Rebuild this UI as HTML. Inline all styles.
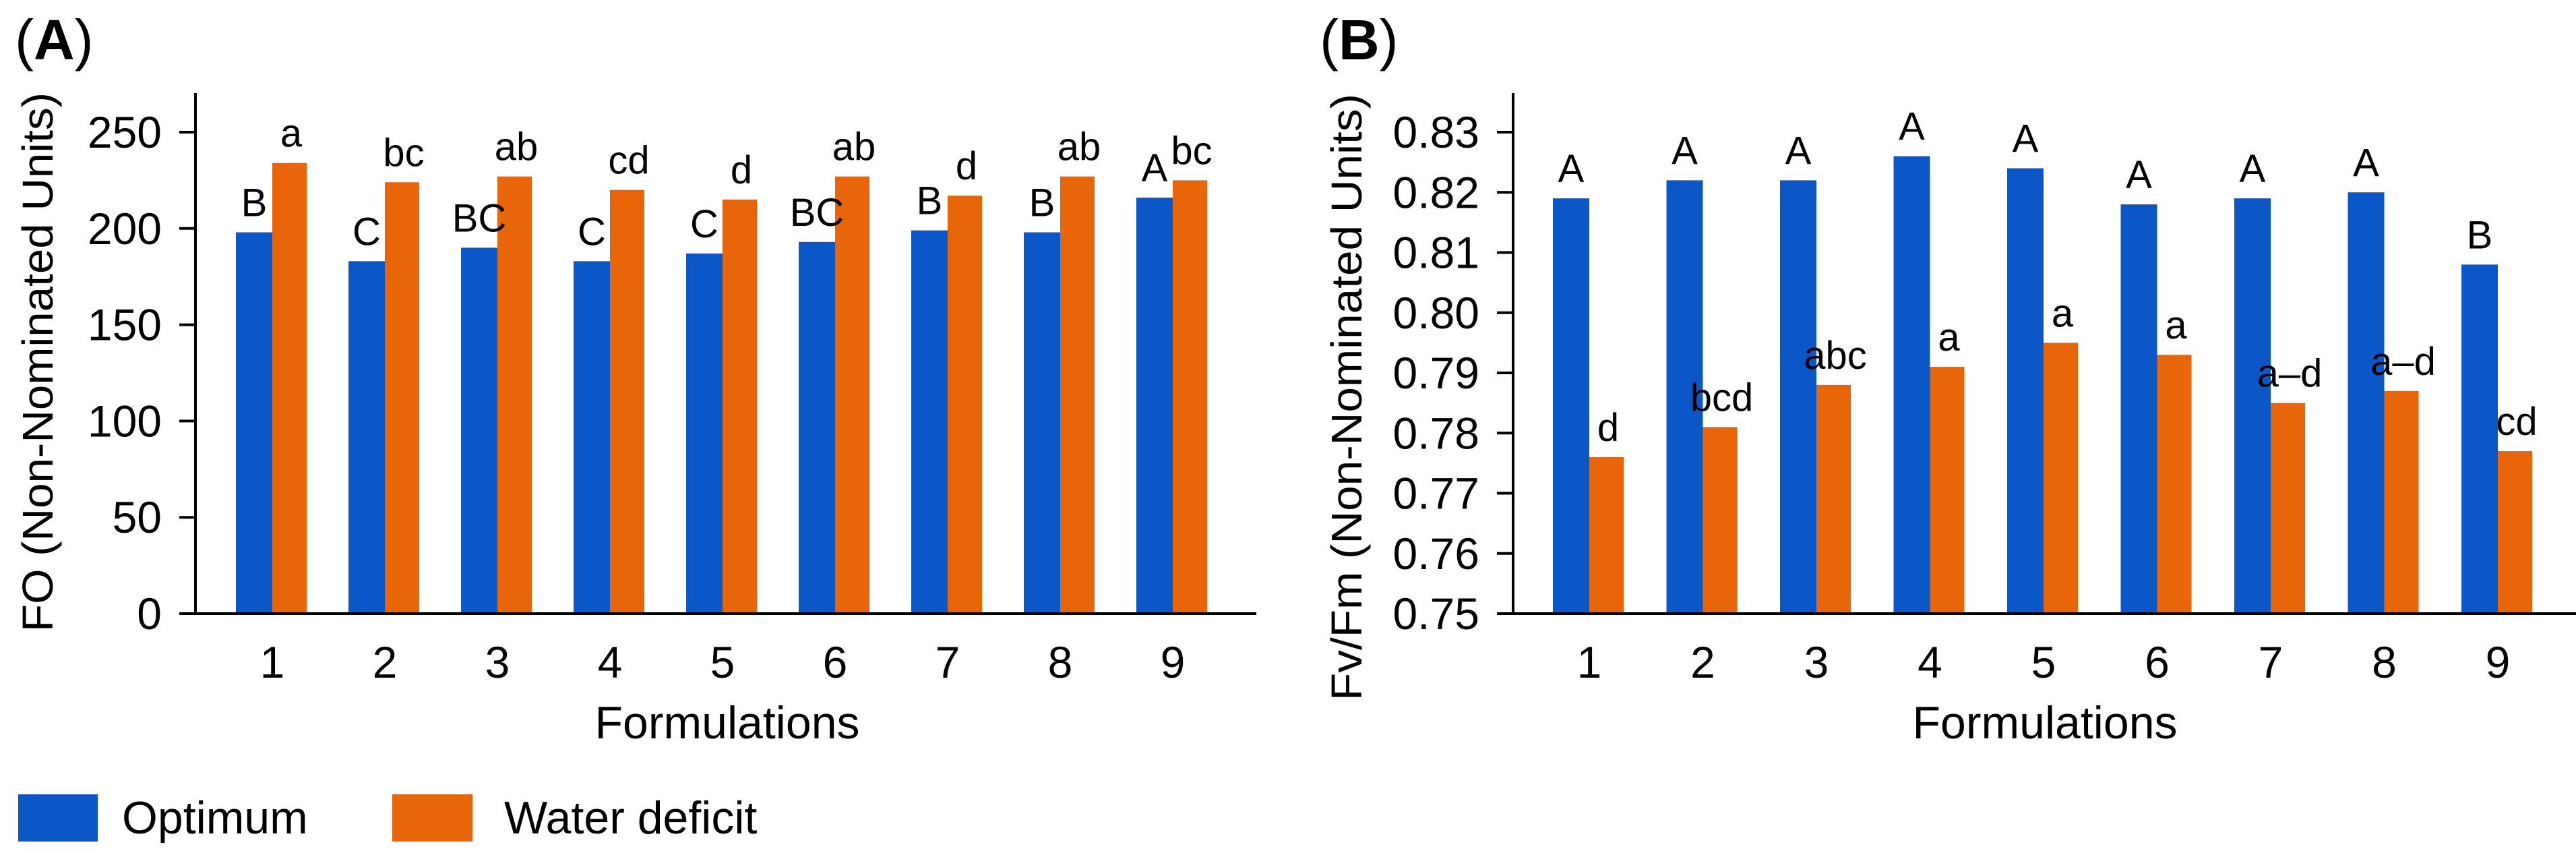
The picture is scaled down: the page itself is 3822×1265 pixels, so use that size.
<!DOCTYPE html>
<html><head><meta charset="utf-8"><style>
html,body{margin:0;padding:0;background:#fff;}
svg{display:block;font-family:"Liberation Sans",Arial,sans-serif;}
</style></head><body>
<svg id="chart" width="3822" height="1265" viewBox="0 0 3822 1265" xmlns="http://www.w3.org/2000/svg"></svg>
<script>
const categories = ["1","2","3","4","5","6","7","8","9"];
const aOptimum = [198,183,190,183,187,193,199,198,216];
const aDeficit = [234,224,227,220,215,227,217,227,225];
const aOptLetters = ["B","C","BC","C","C","BC","B","B","A"];
const aDefLetters = ["a","bc","ab","cd","d","ab","d","ab","bc"];
const aTicks = [0,50,100,150,200,250];
const bOptimum = [0.819,0.822,0.822,0.826,0.824,0.818,0.819,0.820,0.808];
const bDeficit = [0.776,0.781,0.788,0.791,0.795,0.793,0.785,0.787,0.777];
const bOptLetters = ["A","A","A","A","A","A","A","A","B"];
const bDefLetters = ["d","bcd","abc","a","a","a","a–d","a–d","cd"];
const bTicks = [0.75,0.76,0.77,0.78,0.79,0.80,0.81,0.82,0.83];

const BLUE="#0c57c8", ORANGE="#e9650a";
const svg=document.getElementById('chart');
const NS="http://www.w3.org/2000/svg";
function mk(tag,attrs,text){const e=document.createElementNS(NS,tag);for(const k in attrs)e.setAttribute(k,attrs[k]);if(text!==undefined)e.textContent=text;svg.appendChild(e);return e;}

function panel(p){
  const y=v=>p.y0-(v-p.vmin)/(p.vmax-p.vmin)*(p.y0-p.y1);
  const gx=i=>p.c0+i*p.step;
  const lab=mk('text',{x:p.lx,y:88,'font-size':84});
  
  
  const t1=document.createElementNS(NS,'tspan');t1.textContent='(';lab.appendChild(t1);
  const t2=document.createElementNS(NS,'tspan');t2.setAttribute('font-weight','bold');t2.textContent=p.id.toUpperCase();lab.appendChild(t2);
  const t3=document.createElementNS(NS,'tspan');t3.textContent=')';lab.appendChild(t3);
  categories.forEach((c,i)=>{
    const cx=gx(i);
    const b1=mk('rect',{x:cx-54,y:y(p.opt[i]),width:54,height:p.y0-y(p.opt[i]),fill:BLUE});
    
    
    const b2=mk('rect',{x:cx,y:y(p.def[i]),width:51,height:p.y0-y(p.def[i]),fill:ORANGE});
    
    
    const l1=mk('text',{x:cx-27,y:y(p.opt[i])-24,'font-size':58,'text-anchor':'middle'},p.optL[i]);
    
    
    const l2=mk('text',{x:cx+28,y:y(p.def[i])-24,'font-size':58,'text-anchor':'middle'},p.defL[i]);
    
    
    const xt=mk('text',{x:cx,y:1005,'font-size':66,'text-anchor':'middle'},c);
    
    
  });
  const ya=mk('line',{x1:p.ax,y1:138,x2:p.ax,y2:p.y0,stroke:'#000','stroke-width':4});
  
  
  const xa=mk('line',{x1:p.ax-24,y1:p.y0,x2:p.xend,y2:p.y0,stroke:'#000','stroke-width':4});
  
  
  p.ticks.forEach(t=>{
    const ty=y(t);
    const tl=mk('line',{x1:p.ax-24,y1:ty,x2:p.ax,y2:ty,stroke:'#000','stroke-width':4});
    
    
    const tx=mk('text',{x:p.ax-50,y:ty+23,'font-size':66,'text-anchor':'end'},p.fmt(t));
    
    
  });
  const xt=mk('text',{x:p.fx,y:1095,'font-size':68,'text-anchor':'middle'},'Formulations');
  
  
  const yt=mk('text',{x:0,y:0,'font-size':64,'text-anchor':'middle',transform:'translate('+p.tx+','+p.ty+') rotate(-90)',textLength:p.tlen,lengthAdjust:'spacingAndGlyphs'},p.ytitle);
  
  
}

panel({id:'a',opt:aOptimum,def:aDeficit,optL:aOptLetters,defL:aDefLetters,ticks:aTicks,vmin:0,vmax:250,y0:910,y1:196,
  c0:404,step:167,ax:290,xend:1864,lx:22,fx:1079,tx:78,ty:537,tlen:800,ytitle:'FO (Non-Nominated Units)',fmt:t=>String(t)});
panel({id:'b',opt:bOptimum,def:bDeficit,optL:bOptLetters,defL:bDefLetters,ticks:bTicks,vmin:0.75,vmax:0.83,y0:910,y1:196,
  c0:2358,step:168.5,ax:2245,xend:3822,lx:1958,fx:3034,tx:2020,ty:589,tlen:900,ytitle:'Fv/Fm (Non-Nominated Units)',fmt:t=>t.toFixed(2)});

const s1=mk('rect',{x:27,y:1178,width:118,height:70,fill:BLUE});


const lt1=mk('text',{x:181,y:1236,'font-size':68},'Optimum');


const s2=mk('rect',{x:582,y:1178,width:119,height:70,fill:ORANGE});


const lt2=mk('text',{x:748,y:1236,'font-size':68},'Water deficit');


</script>
</body></html>
